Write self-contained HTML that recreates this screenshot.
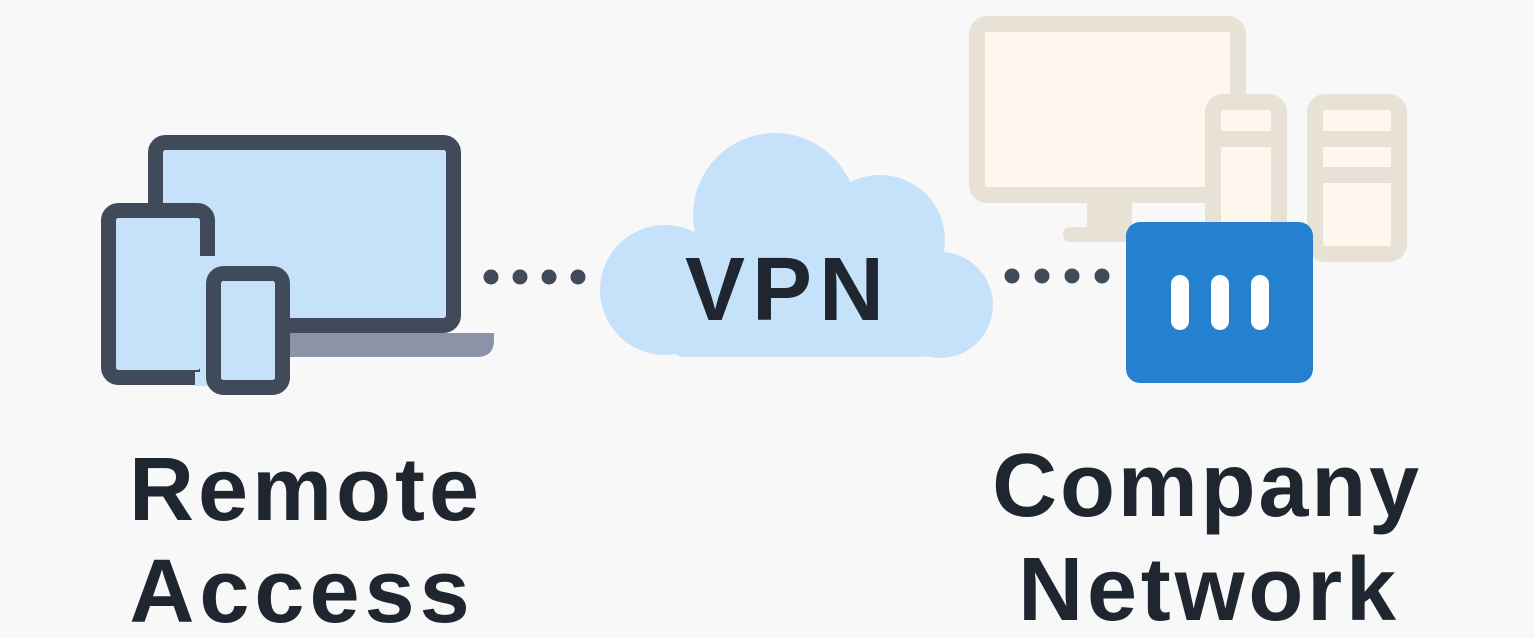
<!DOCTYPE html>
<html><head><style>
html,body{margin:0;padding:0;background:#f8f8f8;}
svg{display:block}
</style></head><body>
<svg width="1534" height="638" viewBox="0 0 1534 638" xmlns="http://www.w3.org/2000/svg">
<rect width="1534" height="638" fill="#f8f8f8"/>
<path d="M290 333 H494 V340 Q494 357 477 357 H290 Z" fill="#8a94a6"/>
<rect x="155.5" y="142.5" width="298" height="183" rx="10" fill="#c5e2fa" stroke="#414a58" stroke-width="15"/>
<rect x="108.5" y="210.5" width="99" height="167" rx="10" fill="#c5e2fa" stroke="#414a58" stroke-width="15"/>
<rect x="200" y="256" width="20" height="130" fill="#c5e2fa"/>
<rect x="195" y="372" width="20" height="14" fill="#c5e2fa"/>
<rect x="213.5" y="273.5" width="69" height="114" rx="10" fill="#c5e2fa" stroke="#414a58" stroke-width="15"/>
<g fill="#414a58">
<circle cx="491" cy="277" r="7.5"/><circle cx="520" cy="277" r="7.5"/><circle cx="549" cy="277" r="7.5"/><circle cx="578" cy="277" r="7.5"/>
<circle cx="1012" cy="276" r="7.5"/><circle cx="1042" cy="276" r="7.5"/><circle cx="1072" cy="276" r="7.5"/><circle cx="1102" cy="276" r="7.5"/>
</g>
<g fill="#c5e2fa">
<circle cx="775" cy="215" r="82"/>
<circle cx="665" cy="290" r="65"/>
<circle cx="880" cy="240" r="65"/>
<circle cx="940" cy="305" r="53"/>
<rect x="665" y="250" width="275" height="107" rx="20"/>
</g>
<text x="788" y="320" text-anchor="middle" font-family="Liberation Sans, sans-serif" font-weight="bold" font-size="90" letter-spacing="7" fill="#1f2630">VPN</text>
<g fill="#e8e2d6">
<rect x="1087" y="203" width="45" height="25"/>
<rect x="1063" y="227" width="140" height="15" rx="7"/>
</g>
<g fill="#fdf7ee" stroke="#e8e2d6" stroke-width="16">
<rect x="977" y="24" width="261" height="171" rx="10"/>
<rect x="1315" y="102" width="84" height="152" rx="10"/>
<rect x="1213" y="102" width="66" height="160" rx="10"/>
</g>
<g fill="#e8e2d6">
<rect x="1221" y="131" width="50" height="16"/>
<rect x="1323" y="131" width="70" height="16"/>
<rect x="1323" y="167" width="70" height="16"/>
</g>
<rect x="1126" y="222" width="187" height="161" rx="14" fill="#2680d0"/>
<g fill="#fff">
<rect x="1171" y="275" width="18" height="55" rx="9"/>
<rect x="1211" y="275" width="18" height="55" rx="9"/>
<rect x="1251" y="275" width="18" height="55" rx="9"/>
</g>
<g font-family="Liberation Sans, sans-serif" font-weight="bold" font-size="90" fill="#1f2630" text-anchor="middle">
<text x="306" y="520" letter-spacing="4">Remote</text>
<text x="302" y="622" letter-spacing="5">Access</text>
<text x="1207" y="516" letter-spacing="2.8">Company</text>
<text x="1209" y="620" letter-spacing="3.8">Network</text>
</g>
</svg>
</body></html>
